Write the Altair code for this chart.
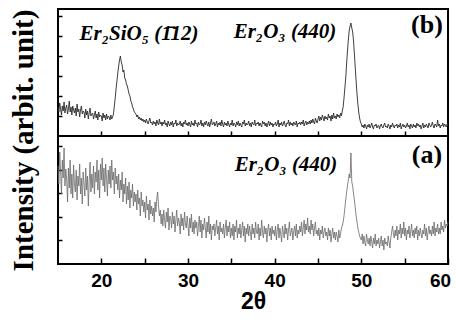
import altair as alt
import pandas as pd

# ---------------- data ----------------
theta_start = 15.0
theta_step = 0.1

# panel (b): one row per degree, values at x.0 ... x.9
intensity_b = [
    29, 24, 33, 27, 21, 30, 25, 34, 23, 28,   # 15
    31, 22, 27, 35, 24, 29, 21, 30, 26, 23,   # 16
    28, 20, 32, 24, 27, 19, 26, 30, 22, 25,   # 17
    24, 18, 27, 21, 25, 17, 23, 28, 20, 22,   # 18
    23, 17, 21, 25, 18, 22, 16, 24, 19, 21,   # 19
    20, 15, 23, 18, 21, 16, 22, 17, 20, 19,   # 20
    16, 21, 17, 19, 22, 30, 38, 47, 55, 63,   # 21
    70, 76, 80, 74, 71, 64, 66, 58, 56, 52,   # 22
    50, 46, 42, 40, 35, 33, 29, 27, 24, 23,   # 23
    22, 19, 21, 17, 19, 16, 18, 15, 17, 14,   # 24
    16, 13, 17, 14, 12, 15, 18, 13, 14, 11,   # 25
    15, 12, 14, 10, 16, 13, 11, 17, 12, 14,   # 26
    10, 14, 12, 16, 11, 13, 9, 15, 12, 10,    # 27
    14, 11, 15, 9, 13, 12, 16, 10, 13, 11,    # 28
    12, 15, 10, 13, 9, 14, 12, 16, 11, 13,    # 29
    10, 14, 12, 9, 15, 11, 13, 10, 16, 12,    # 30
    13, 9, 14, 11, 12, 16, 10, 13, 9, 14,     # 31
    11, 15, 12, 10, 14, 9, 13, 17, 11, 12,    # 32
    14, 10, 12, 15, 9, 13, 11, 14, 10, 16,    # 33
    12, 9, 14, 11, 13, 10, 15, 12, 9, 13,     # 34
    11, 16, 10, 13, 12, 9, 14, 11, 15, 10,    # 35
    13, 11, 9, 14, 12, 16, 10, 13, 11, 12,    # 36
    15, 10, 13, 9, 14, 12, 11, 16, 10, 13,    # 37
    12, 14, 10, 13, 11, 9, 15, 12, 14, 10,    # 38
    13, 9, 12, 15, 10, 14, 11, 13, 9, 12,     # 39
    11, 14, 10, 12, 16, 9, 13, 11, 14, 10,    # 40
    12, 15, 11, 9, 13, 12, 16, 10, 14, 11,    # 41
    13, 10, 14, 12, 11, 15, 9, 13, 12, 14,    # 42
    11, 14, 12, 16, 10, 13, 15, 11, 14, 12,   # 43
    15, 12, 16, 13, 17, 14, 12, 18, 15, 13,   # 44
    17, 20, 15, 19, 16, 21, 18, 15, 20, 17,   # 45
    19, 16, 22, 18, 20, 15, 21, 17, 23, 18,   # 46
    20, 17, 22, 19, 21, 18, 23, 20, 25, 29,   # 47
    38, 48, 58, 72, 85, 96, 105, 110, 113, 108,  # 48
    104, 95, 82, 68, 55, 42, 32, 24, 18, 14,  # 49
    12, 9, 11, 8, 12, 10, 7, 11, 9, 12,       # 50
    8, 10, 13, 9, 7, 11, 10, 12, 8, 10,       # 51
    11, 7, 10, 12, 9, 8, 11, 13, 9, 10,       # 52
    8, 12, 10, 7, 11, 9, 13, 10, 8, 11,       # 53
    10, 12, 8, 11, 9, 13, 7, 10, 12, 9,       # 54
    11, 8, 10, 13, 9, 11, 7, 12, 10, 8,       # 55
    12, 9, 11, 8, 13, 10, 12, 9, 11, 7,       # 56
    10, 13, 8, 11, 9, 12, 10, 8, 13, 11,      # 57
    9, 11, 14, 10, 8, 12, 11, 9, 16, 10,      # 58
    12, 8, 11, 10, 13, 9, 12, 11, 9, 12,      # 59
    10,                                       # 60
]

# panel (a)
intensity_a = [
    98, 80, 112, 92, 70, 104, 86, 116, 78, 95,   # 15
    84, 62, 96, 76, 104, 70, 90, 66, 99, 80,     # 16
    72, 94, 64, 88, 78, 100, 70, 86, 60, 92,     # 17
    80, 68, 96, 74, 88, 58, 82, 102, 72, 90,     # 18
    76, 98, 70, 92, 82, 104, 74, 94, 66, 100,    # 19
    84, 106, 78, 96, 72, 100, 86, 68, 94, 80,    # 20
    98, 76, 104, 84, 92, 70, 96, 80, 88, 74,     # 21
    90, 66, 84, 74, 92, 62, 80, 70, 86, 60,      # 22
    78, 64, 82, 56, 74, 66, 80, 58, 72, 62,      # 23
    70, 54, 74, 60, 66, 48, 72, 58, 64, 52,      # 24
    62, 46, 68, 54, 60, 44, 64, 50, 58, 48,      # 25
    56, 42, 62, 52, 66, 72, 58, 48, 54, 40,      # 26
    50, 38, 54, 44, 36, 52, 42, 56, 34, 48,      # 27
    46, 36, 52, 40, 48, 32, 44, 54, 38, 46,      # 28
    42, 30, 50, 38, 46, 34, 52, 40, 36, 48,      # 29
    38, 28, 46, 36, 50, 32, 42, 30, 44, 36,      # 30
    42, 28, 38, 48, 32, 44, 26, 40, 34, 46,      # 31
    36, 26, 42, 32, 48, 30, 40, 24, 38, 34,      # 32
    40, 28, 36, 44, 30, 38, 24, 42, 32, 36,      # 33
    30, 40, 26, 36, 44, 28, 38, 32, 42, 26,      # 34
    36, 28, 40, 24, 38, 32, 44, 26, 36, 30,      # 35
    40, 26, 34, 42, 28, 38, 22, 36, 30, 40,      # 36
    28, 38, 32, 24, 40, 30, 36, 26, 42, 32,      # 37
    30, 40, 24, 36, 28, 44, 32, 26, 38, 30,      # 38
    36, 22, 34, 40, 28, 36, 24, 38, 30, 34,      # 39
    28, 38, 24, 34, 40, 26, 36, 30, 22, 38,      # 40
    32, 26, 40, 30, 36, 24, 34, 42, 28, 32,      # 41
    36, 24, 32, 38, 28, 40, 26, 34, 30, 38,      # 42
    32, 42, 28, 36, 44, 30, 40, 34, 46, 32,      # 43
    38, 30, 44, 34, 40, 28, 36, 42, 30, 34,      # 44
    28, 36, 24, 34, 30, 38, 26, 32, 36, 28,      # 45
    32, 24, 36, 28, 34, 22, 30, 36, 26, 32,      # 46
    24, 32, 28, 22, 34, 26, 30, 36, 38, 42,      # 47
    48, 56, 64, 72, 78, 84, 90, 86, 111, 82,     # 48
    78, 70, 64, 56, 48, 42, 36, 32, 28, 26,      # 49
    24, 30, 20, 28, 22, 18, 30, 24, 20, 26,      # 50
    18, 28, 22, 16, 26, 20, 30, 18, 24, 20,      # 51
    26, 16, 22, 28, 18, 24, 14, 26, 20, 22,      # 52
    18, 28, 22, 16, 26, 32, 38, 30, 26, 34,      # 53
    28, 38, 24, 34, 30, 40, 26, 36, 30, 42,      # 54
    28, 36, 24, 34, 30, 38, 26, 32, 40, 28,      # 55
    34, 26, 36, 30, 38, 24, 34, 28, 36, 30,      # 56
    26, 34, 30, 40, 28, 36, 24, 32, 38, 30,      # 57
    34, 28, 38, 30, 42, 28, 36, 32, 40, 30,      # 58
    36, 30, 42, 34, 38, 32, 44, 36, 40, 38,      # 59
    42,                                          # 60
]

two_theta = [round(theta_start + theta_step * i, 2) for i in range(len(intensity_b))]

x_ticks = [20, 25, 30, 35, 40, 45, 50, 55, 60]
yb_ticks = [20, 40, 60, 80, 100, 120]
ya_ticks = [24, 47.5, 71, 94.5, 118]

labels_b = ["Er\u2082SiO\u2085 (1\u030412)", "Er\u2082O\u2083 (440)", "(b)"]
labels_a = ["Er\u2082O\u2083 (440)", "(a)"]

y_title = "Intensity (arbit. unit)"
x_title = "2\u03b8"

# ---------------- chart ----------------
W = 390
HB = 127
HA = 128
x_scale = alt.Scale(domain=[15, 60], nice=False, zero=False)


def text_layer(label, px, py, size, italic=True, angle=0):
    return alt.Chart(pd.DataFrame({"t": [label]})).mark_text(
        text=label, font="Liberation Serif", fontSize=size, fontWeight="bold",
        fontStyle="italic" if italic else "normal", align="center",
        baseline="alphabetic", color="black", angle=angle,
    ).encode(x=alt.value(px), y=alt.value(py))


df_b = pd.DataFrame({"x": two_theta, "y": intensity_b})
df_a = pd.DataFrame({"x": two_theta, "y": intensity_a})

line_b = alt.Chart(df_b).mark_line(color="#2b2b2b", strokeWidth=0.9).encode(
    x=alt.X("x:Q", scale=x_scale, axis=alt.Axis(
        values=x_ticks[:-1], labels=False, title=None, domain=False, grid=False,
        tickSize=5, offset=-5, tickColor="black", tickWidth=1.5)),
    y=alt.Y("y:Q", scale=alt.Scale(domain=[0, HB], nice=False, zero=False), axis=alt.Axis(
        values=yb_ticks, labels=False, domain=False, grid=False, tickSize=4, offset=-4,
        tickColor="black", tickWidth=1.5, title=None)),
)

top = alt.layer(
    line_b,
    text_layer(labels_b[0], 81, 31, 21),
    text_layer(labels_b[1], 227, 29, 21),
    text_layer(labels_b[2], 369, 24, 26, italic=False),
    text_layer(y_title, -25.3, 131.5, 29, italic=False, angle=270),
).properties(width=W, height=HB)

line_a = alt.Chart(df_a).mark_line(color="#6a6a6a", strokeWidth=0.8).encode(
    x=alt.X("x:Q", scale=x_scale, axis=alt.Axis(
        values=x_ticks, labelExpr="datum.value % 10 == 0 ? datum.label : ''",
        labelOverlap=False, labelFlush=False, domain=False, grid=False,
        labelOffset={"condition": {"test": "datum.value == 60", "value": -8}, "value": 0},
        tickSize=6, offset=-6, tickColor="black", tickWidth=1.5, labelPadding=7,
        labelFont="Liberation Sans", labelFontSize=19, labelFontWeight="bold",
        labelColor="black", title=x_title, titleFont="Liberation Sans",
        titleFontSize=23, titleFontWeight="bold", titlePadding=0, titleColor="black")),
    y=alt.Y("y:Q", scale=alt.Scale(domain=[0, HA], nice=False, zero=False), axis=alt.Axis(
        values=ya_ticks, labels=False, domain=False, grid=False, tickSize=4, offset=-4,
        tickColor="black", tickWidth=1.5, title=None)),
)

bottom = alt.layer(
    line_a,
    text_layer(labels_a[0], 228, 35, 21),
    text_layer(labels_a[1], 369, 27, 26, italic=False),
).properties(width=W, height=HA)

chart = alt.vconcat(top, bottom, spacing=0, bounds="flush").configure_view(
    stroke="black", strokeWidth=2
).properties(
    padding={"left": 0, "top": 0, "right": 0, "bottom": 0}, background="white"
)

chart.save("out.html", embed_options={"renderer": "svg", "actions": False})
